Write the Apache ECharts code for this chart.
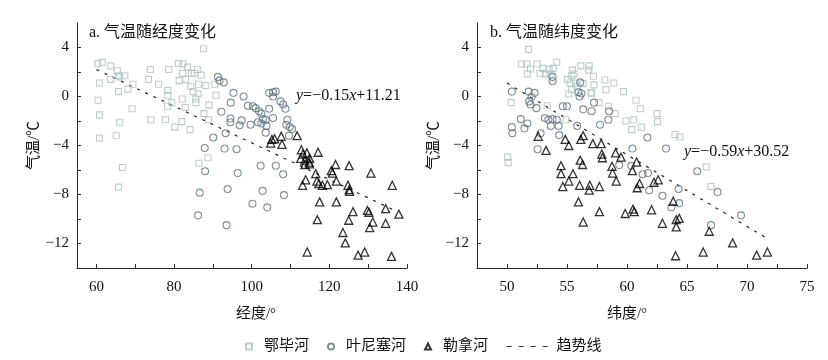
<!DOCTYPE html>
<html><head><meta charset="utf-8">
<script src="https://cdn.jsdelivr.net/npm/echarts@6/dist/echarts.min.js"></script>
<style>html,body{margin:0;padding:0;background:#fff}#c{width:828px;height:360px}</style>
</head><body><div id="c"></div>
<script>
// ---- axis ticks / labels ----
const lonTicks = [60,70,80,90,100,110,120,130,140];
const lonLabels = [60,80,100,120,140];
const latTicks = [50,52.5,55,57.5,60,62.5,65,67.5,70,72.5,75];
const latLabels = [50,55,60,65,70,75];
const tempTicks = [-12,-10,-8,-6,-4,-2,0,2,4];
const tempLabels = [-12,-8,-4,0,4];
const riverNames = ['鄂毕河','叶尼塞河','勒拿河'];
const trendName = '趋势线';
const panelTitles = ['a. 气温随经度变化','b. 气温随纬度变化'];
const axisNames = ['经度/°','纬度/°','气温/℃'];

// ---- data: [longitude, temperature] ----
const obLon = [[60.4,2.7],[61.5,2.8],[63.7,2.5],[63.6,1.4],[65.4,2.1],[65.6,1.7],[66.0,1.6],[67.3,1.7],[69.4,1.0],[68.1,0.6],[65.7,0.4],[60.8,1.1],[60.4,-0.3],[60.8,-1.5],[66.0,-2.1],[60.8,-3.4],[65.1,-3.2],[69.2,-1.0],[66.7,-5.8],[65.7,-7.4],[73.9,2.2],[78.6,2.2],[73.4,1.4],[76.0,1.0],[78.4,0.5],[78.4,0.1],[78.3,-0.8],[79.4,-0.5],[74.0,-1.9],[77.8,-1.9],[81.1,2.7],[82.3,2.65],[83.5,2.4],[82.2,1.9],[84.5,1.9],[85.2,1.9],[86.0,2.2],[87.0,1.75],[81.3,1.3],[83.0,1.4],[86.3,1.0],[88.2,0.9],[90.5,1.0],[84.3,0.8],[84.9,0.4],[86.2,0.2],[85.6,-0.2],[85.6,-0.5],[82.1,-0.2],[82.9,-0.9],[82.0,-2.05],[80.2,-2.5],[84.1,-2.7],[89.0,-0.7],[87.7,-1.4],[88.9,-1.9],[90.8,0.1],[88.7,-5.0],[86.4,-5.45],[87.6,3.9]];
const yenLon = [[91.3,1.6],[91.7,1.3],[92.8,1.15],[95.3,0.3],[97.9,0.0],[94.6,-0.5],[92.2,-1.25],[94.5,-1.8],[94.5,-2.1],[97.4,-1.95],[96.9,-2.35],[93.3,-3.0],[90.1,-3.35],[87.9,-4.2],[93.0,-4.25],[96.1,-4.3],[88.0,-6.1],[96.4,-6.25],[86.6,-7.85],[93.8,-7.55],[86.2,-9.7],[93.5,-10.5],[104.5,0.3],[105.5,0.35],[106.2,0.4],[105.5,0.0],[107.4,-0.4],[108.1,-0.65],[108.7,-1.0],[99.0,-0.75],[100.3,-0.8],[101.0,-0.95],[101.9,-1.2],[102.5,-1.4],[104.5,-1.0],[105.5,-1.75],[102.9,-1.85],[103.6,-1.9],[109.2,-1.9],[101.6,-2.1],[102.5,-2.2],[103.8,-2.4],[108.9,-2.3],[109.8,-2.5],[110.4,-2.65],[99.7,-2.3],[109.6,-3.2],[103.6,-2.95],[102.3,-5.65],[106.2,-5.65],[108.1,-6.35],[102.8,-7.7],[108.3,-8.05],[100.2,-8.75],[104.0,-9.05]];
const lenaLon = [[105.2,-3.5],[105.9,-3.45],[104.9,-3.8],[107.6,-3.25],[107.8,-3.9],[111.7,-3.2],[112.8,-4.35],[113.2,-4.7],[114.2,-4.6],[112.6,-5.05],[113.7,-5.2],[114.9,-5.05],[114.8,-5.35],[113.7,-5.55],[114.9,-5.5],[117.1,-4.55],[121.6,-5.55],[125.1,-5.65],[116.5,-6.3],[120.5,-6.05],[120.8,-6.25],[130.7,-6.25],[113.9,-6.8],[113.1,-7.25],[116.8,-6.9],[117.3,-7.1],[118.2,-7.25],[119.5,-7.2],[121.8,-6.9],[124.8,-7.25],[125.1,-7.6],[125.2,-7.75],[136.2,-7.25],[117.5,-8.6],[121.8,-8.6],[126.1,-9.4],[129.8,-9.3],[130.2,-9.45],[134.5,-9.15],[137.9,-9.6],[116.9,-10.05],[125.0,-10.1],[131.2,-10.25],[130.4,-10.7],[134.5,-10.35],[123.5,-11.1],[124.1,-11.95],[114.3,-12.7],[127.4,-12.95],[129.1,-12.7],[136.0,-13.05]];
const trendLon = [[60,2.2],[137.5,-9.4]];

// ---- data: [latitude, temperature] ----
const obLat = [[51.8,3.85],[51.2,2.65],[51.65,2.65],[51.95,2.25],[51.7,1.85],[52.5,2.65],[52.75,1.9],[53.0,2.3],[53.2,1.85],[53.5,2.2],[53.85,2.3],[54.15,2.8],[53.65,1.8],[55.45,2.15],[55.6,1.85],[56.15,2.5],[56.85,2.5],[56.8,2.15],[55.4,1.7],[55.05,1.4],[55.25,1.1],[55.7,1.1],[55.85,0.85],[56.35,1.05],[57.2,1.65],[57.25,0.95],[55.15,0.2],[55.4,0.55],[57.05,0.25],[57.65,-0.5],[58.15,1.35],[58.25,0.55],[58.9,1.1],[59.7,0.4],[58.45,-0.8],[59.0,-1.4],[59.9,-2.0],[60.55,-1.9],[60.75,-0.3],[60.4,-2.7],[50.05,-4.95],[50.1,-5.4],[50.35,-0.5],[53.35,-0.75],[61.1,-1.0],[61.2,-2.5],[62.5,-1.4],[62.55,-2.05],[64.0,-3.1],[64.4,-3.3],[66.6,-5.75],[67.0,-7.35],[54.9,-1.9],[57.0,0.35]];
const yenLat = [[53.8,1.6],[53.8,1.25],[56.1,1.15],[50.4,0.4],[51.8,0.4],[52.3,0.3],[52.05,-0.05],[51.85,-0.4],[51.95,-0.65],[52.45,-0.95],[55.95,0.35],[56.2,0.25],[56.05,0.0],[57.25,-0.5],[56.35,-1.05],[57.05,-1.2],[54.65,-0.8],[55.0,-0.8],[58.5,-1.2],[58.45,-1.9],[57.75,-2.3],[55.85,-2.4],[53.15,-1.75],[53.45,-1.9],[53.8,-1.85],[54.15,-1.9],[53.65,-2.4],[54.3,-2.4],[51.15,-1.85],[51.7,-2.2],[51.45,-2.6],[50.4,-2.5],[50.45,-3.0],[52.8,-3.0],[54.35,-3.15],[52.55,-4.3],[59.35,-5.6],[60.45,-4.25],[61.7,-3.35],[63.25,-4.25],[65.85,-6.1],[67.55,-7.8],[69.5,-9.7],[67.0,-10.5],[61.3,-6.35],[61.75,-6.25],[61.85,-7.65],[62.95,-8.1],[63.7,-9.05],[64.35,-8.7],[64.3,-7.55],[60.35,-5.65]];
const lenaLat = [[52.6,-3.25],[53.25,-4.4],[54.85,-3.5],[55.15,-4.0],[56.35,-3.2],[56.15,-3.5],[57.15,-3.85],[57.85,-3.85],[57.9,-4.7],[57.95,-5.0],[59.05,-4.6],[59.5,-4.95],[60.8,-5.35],[56.1,-5.2],[56.3,-5.55],[54.5,-5.65],[54.5,-6.3],[55.5,-6.3],[55.15,-6.9],[54.65,-7.35],[56.05,-7.25],[56.9,-7.25],[56.85,-7.65],[57.7,-7.35],[58.75,-5.7],[58.8,-6.25],[59.1,-6.9],[60.45,-6.05],[60.85,-7.45],[61.05,-7.1],[62.25,-7.0],[62.6,-6.8],[55.95,-8.6],[57.7,-9.4],[59.85,-9.55],[60.5,-9.2],[60.6,-9.4],[56.35,-10.25],[62.05,-9.25],[62.95,-10.35],[63.85,-8.55],[64.1,-10.05],[64.35,-9.95],[64.1,-10.65],[64.05,-13.0],[66.35,-12.7],[66.85,-11.0],[68.8,-11.95],[70.8,-12.95],[71.7,-12.7]];
const trendLat = [[50,1.1],[71.7,-11.6]];

const SERIF = '"Liberation Serif","Noto Sans CJK SC",serif';
const fmt = v => String(v).replace('-', '\u2212');
const INK = '#111';
const AX = '#2a2a2a';

function xAx(gi, min, max, ticks, labels, name, shift) {
  return {
    type: 'value', gridIndex: gi, min: min, max: max,
    splitLine: {show: false},
    axisLine: {show: true, onZero: false, lineStyle: {color: AX, width: 1}},
    axisTick: {show: true, inside: true, length: 4, customValues: ticks, lineStyle: {color: AX}},
    axisLabel: {customValues: labels, formatter: fmt, color: INK, fontFamily: SERIF, fontSize: 15, margin: 12},
    name: name, nameLocation: 'middle', nameGap: 39,
    nameTextStyle: {fontFamily: SERIF, fontSize: 15, color: INK, padding: shift}
  };
}
function yAx(gi) {
  return {
    type: 'value', gridIndex: gi, min: -14, max: 6,
    splitLine: {show: false},
    axisLine: {show: true, onZero: false, lineStyle: {color: AX, width: 1}},
    axisTick: {show: true, inside: true, length: 4, customValues: tempTicks, lineStyle: {color: AX}},
    axisLabel: {customValues: tempLabels, formatter: fmt, color: INK, fontFamily: SERIF, fontSize: 15, margin: 8},
    name: axisNames[2], nameLocation: 'middle', nameGap: 34, nameRotate: 90,
    nameTextStyle: {fontFamily: SERIF, fontSize: 15, color: INK}
  };
}

const styles = [
  {symbol: 'rect', size: 6, color: '#adc2c3', bw: 1.1},
  {symbol: 'circle', size: 7, color: '#5f7480', bw: 1.1},
  {symbol: 'triangle', size: 8, color: '#000000', bw: 1.3}
];
function scat(name, data, gi, st) {
  return {
    type: 'scatter', name: name, data: data, xAxisIndex: gi, yAxisIndex: gi,
    symbol: st.symbol, symbolSize: st.size,
    itemStyle: {color: 'rgba(255,255,255,0)', borderColor: st.color, borderWidth: st.bw},
    emphasis: {disabled: true}, z: 3
  };
}
function trend(data, gi) {
  return {
    type: 'line', name: trendName, data: data, xAxisIndex: gi, yAxisIndex: gi,
    symbol: 'none', lineStyle: {color: '#222', width: 1.2, type: [3, 6]},
    itemStyle: {color: '#222'}, emphasis: {disabled: true}, z: 2
  };
}

const titleStyle = {fontFamily: SERIF, fontSize: 16, fontWeight: 'normal', color: INK};
const eqRich = {i: {fontStyle: 'italic', fontFamily: SERIF, fontSize: 16, fill: INK}};

const chart = echarts.init(document.getElementById('c'), null, {renderer: 'canvas'});
chart.setOption({
  animation: false,
  backgroundColor: '#fff',
  grid: [
    {left: 77, top: 23, width: 330, height: 245},
    {left: 477, top: 23, width: 330, height: 245}
  ],
  xAxis: [
    xAx(0, 55, 140, lonTicks, lonLabels, axisNames[0], [0, 0, 0, 28]),
    xAx(1, 47.5, 75, latTicks, latLabels, axisNames[1], [0, 30, 0, 0])
  ],
  yAxis: [yAx(0), yAx(1)],
  title: [
    {text: panelTitles[0], left: 89, top: 25, padding: 0, textStyle: titleStyle},
    {text: panelTitles[1], left: 490, top: 25, padding: 0, textStyle: titleStyle}
  ],
  legend: [
    {data: riverNames, left: 240, top: 334, itemWidth: 6, itemHeight: 6, itemGap: 18,
     textStyle: {fontFamily: SERIF, fontSize: 15, color: INK, padding: [0, 0, 0, 7]}, selectedMode: false},
    {data: [trendName], left: 501, top: 334, itemWidth: 42, itemHeight: 10,
     itemStyle: {color: 'rgba(0,0,0,0)', borderWidth: 0, opacity: 0},
     lineStyle: {type: [5, 7], width: 1.2, color: '#333'},
     textStyle: {fontFamily: SERIF, fontSize: 15, color: INK, padding: [0, 0, 0, 3]}, selectedMode: false}
  ],
  graphic: [
    {type: 'text', left: 296, top: 88, style: {text: '{i|y}=\u22120.15{i|x}+11.21', fill: INK, font: '16px ' + SERIF, rich: eqRich}},
    {type: 'text', left: 684, top: 144, style: {text: '{i|y}=\u22120.59{i|x}+30.52', fill: INK, font: '16px ' + SERIF, rich: eqRich}}
  ],
  series: [
    scat(riverNames[0], obLon, 0, styles[0]),
    scat(riverNames[1], yenLon, 0, styles[1]),
    scat(riverNames[2], lenaLon, 0, styles[2]),
    trend(trendLon, 0),
    scat(riverNames[0], obLat, 1, styles[0]),
    scat(riverNames[1], yenLat, 1, styles[1]),
    scat(riverNames[2], lenaLat, 1, styles[2]),
    trend(trendLat, 1)
  ]
});
</script></body></html>
